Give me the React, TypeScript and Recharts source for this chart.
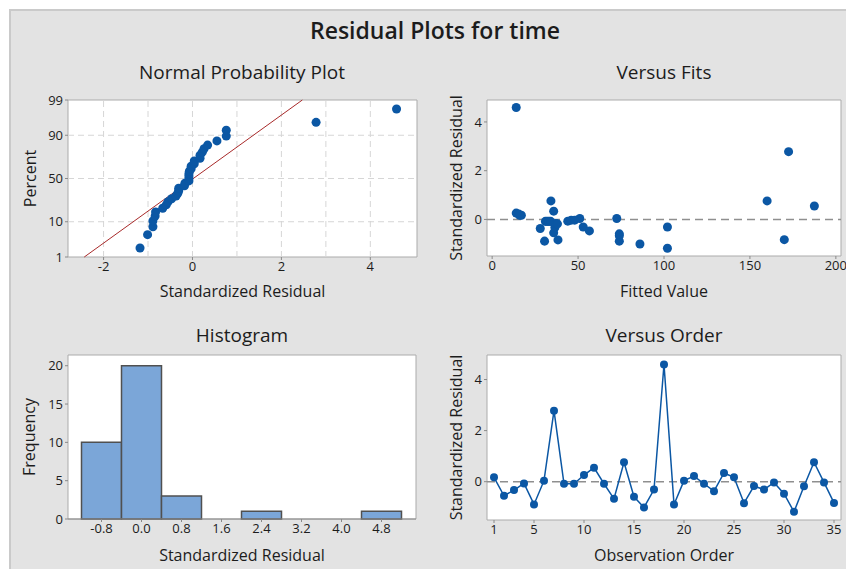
import React from "react";
import {
  ScatterChart,
  LineChart,
  BarChart,
  Scatter,
  Line,
  Bar,
  XAxis,
  YAxis,
  ZAxis,
  ReferenceLine,
  ReferenceArea,
} from "recharts";

// standardized residuals, in observation order 1..35
const residuals = [
  0.17, -0.55, -0.33, -0.07, -0.89, 0.04, 2.78, -0.08, -0.08, 0.26, 0.55, -0.08,
  -0.67, 0.76, -0.59, -1.01, -0.31, 4.59, -0.89, 0.04, 0.22, -0.08, -0.37, 0.34,
  0.17, -0.84, -0.17, -0.31, -0.03, -0.47, -1.18, -0.18, 0.76, -0.03, -0.83,
];
// fitted values for the same observations
const fittedValues = [
  17, 35.8, 36.5, 44, 74, 72.5, 172.5, 31, 32, 14, 187.5, 33, 74, 160, 74, 86,
  102, 14, 30.5, 51, 15.5, 34, 28, 35.8, 16, 38.3, 37, 53, 46, 56.6, 102, 38,
  34.2, 48, 170,
];
const binMids = [-0.8, 0.0, 0.8, 1.6, 2.4, 3.2, 4.0, 4.8];
const binCounts = [10, 20, 3, 0, 1, 0, 0, 1];

const percentTicks = [1, 10, 50, 90, 99];
const percentGrid = [10, 50, 90];
const probTicksX = [-2, 0, 2, 4];
const probGridX = [-2, -1, 0, 1, 2, 3, 4];
const fitsTicksX = [0, 50, 100, 150, 200];
const residTicksY = [0, 2, 4];
const orderTicksX = [1, 5, 10, 15, 20, 25, 30, 35];
const freqTicksY = [0, 5, 10, 15, 20];

const FONT = '"Open Sans", "Noto Sans", sans-serif';
const TEXT = "#1c1c1c";
const BLUE = "#0b57a4";
const FRAME = "#ababab";

// inverse normal cdf (Acklam)
function probit(p: number): number {
  const a = [-39.69683028665376, 220.9460984245205, -275.9285104469687, 138.357751867269, -30.66479806614716, 2.506628277459239];
  const b = [-54.47609879822406, 161.5858368580409, -155.6989798598866, 66.80131188771972, -13.28068155288572];
  const c = [-0.007784894002430293, -0.3223964580411365, -2.400758277161838, -2.549671010376228, 4.374664141464968, 2.938163982698783];
  const d = [0.007784695709041462, 0.3224671290700398, 2.445134137142996, 3.754408661907416];
  const lo = 0.02425;
  if (p < lo) {
    const q = Math.sqrt(-2 * Math.log(p));
    return (((((c[0] * q + c[1]) * q + c[2]) * q + c[3]) * q + c[4]) * q + c[5]) /
      ((((d[0] * q + d[1]) * q + d[2]) * q + d[3]) * q + 1);
  }
  if (p > 1 - lo) {
    const q = Math.sqrt(-2 * Math.log(1 - p));
    return -(((((c[0] * q + c[1]) * q + c[2]) * q + c[3]) * q + c[4]) * q + c[5]) /
      ((((d[0] * q + d[1]) * q + d[2]) * q + d[3]) * q + 1);
  }
  const q = p - 0.5;
  const r = q * q;
  return ((((((a[0] * r + a[1]) * r + a[2]) * r + a[3]) * r + a[4]) * r + a[5]) * q) /
    (((((b[0] * r + b[1]) * r + b[2]) * r + b[3]) * r + b[4]) * r + 1);
}

const n = residuals.length;
const sorted = [...residuals].sort((a, b) => a - b);
// median ranks (Benard)
const probPoints = sorted.map((x, i) => ({ x, z: probit((i + 1 - 0.3) / (n + 0.4)) }));
const mean = residuals.reduce((s, v) => s + v, 0) / n;
const sd = Math.sqrt(residuals.reduce((s, v) => s + (v - mean) ** 2, 0) / (n - 1));
const zTicks = percentTicks.map((p) => probit(p / 100));
const zMin = zTicks[0];
const zMax = zTicks[zTicks.length - 1];

const fitsPoints = residuals.map((r, i) => ({ fit: fittedValues[i], r }));
const orderPoints = residuals.map((r, i) => ({ obs: i + 1, r }));
const histData = binMids.map((mid, i) => ({ mid, count: binCounts[i] }));

const probX: [number, number] = [-2.8, 5.05];
const fitsX: [number, number] = [-3, 203];
const fitsY: [number, number] = [-1.5, 4.9];
const histX: [number, number] = [-1.47, 5.49];
const histY: [number, number] = [0, 21.4];
const orderX: [number, number] = [0.3, 35.7];
const orderY: [number, number] = [-1.5, 4.96];

const tick = { fill: TEXT, fontSize: 13, fontFamily: FONT };
const tickLine = { stroke: "#8a8a8a" };
const xLabel = (value: string) => ({
  value,
  position: "insideBottom" as const,
  offset: 0,
  fill: TEXT,
  fontSize: 16,
  fontFamily: FONT,
});
const yLabel = (value: string, offset: number) => ({
  value,
  position: "insideLeft" as const,
  angle: -90,
  offset,
  fill: TEXT,
  fontSize: 16,
  fontFamily: FONT,
  style: { textAnchor: "middle" as const },
});

function Title({ text, cx, top, size, weight }: { text: string; cx: number; top: number; size: number; weight?: number }) {
  return (
    <div
      style={{
        position: "absolute",
        left: cx - 200,
        width: 400,
        top,
        textAlign: "center",
        fontFamily: FONT,
        fontSize: size,
        lineHeight: `${size}px`,
        fontWeight: weight ?? 400,
        color: TEXT,
        whiteSpace: "nowrap",
      }}
    >
      {text}
    </div>
  );
}

function plotBg(x: [number, number], y: [number, number]) {
  return (
    <ReferenceArea
      x1={x[0]}
      x2={x[1]}
      y1={y[0]}
      y2={y[1]}
      ifOverflow="visible"
      fill="#ffffff"
      fillOpacity={1}
      stroke={FRAME}
      strokeWidth={1}
    />
  );
}

export default function App() {
  return (
    <div style={{ position: "absolute", left: 0, top: 0, width: 846, height: 569, background: "#ffffff", overflow: "hidden" }}>
      <div
        style={{
          position: "absolute",
          left: 9,
          top: 9,
          width: 837,
          height: 560,
          background: "#e3e3e3",
          borderLeft: "2px solid #cacaca",
          borderTop: "2px solid #cacaca",
          boxSizing: "border-box",
        }}
      />
      <Title text="Residual Plots for time" cx={435} top={19} size={23} weight={600} />
      <Title text="Normal Probability Plot" cx={242} top={63} size={19} />
      <Title text="Versus Fits" cx={664} top={63} size={19} />
      <Title text="Histogram" cx={242} top={326} size={19} />
      <Title text="Versus Order" cx={664} top={326} size={19} />

      {/* Normal probability plot */}
      <div style={{ position: "absolute", left: 0, top: 50 }}>
        <ScatterChart width={430} height={260} margin={{ top: 50, right: 13, bottom: 13, left: 28 }}>
          <XAxis type="number" dataKey="x" domain={probX} ticks={probTicksX} height={40}
            tick={tick} tickLine={tickLine} tickSize={3} axisLine={false} label={xLabel("Standardized Residual")} />
          <YAxis type="number" dataKey="z" domain={[zMin, zMax]} ticks={zTicks} width={40}
            tick={tick} tickLine={tickLine} tickSize={3} axisLine={false}
            tickFormatter={(v: number) => {
              const i = zTicks.findIndex((t) => Math.abs(t - v) < 1e-6);
              return i >= 0 ? String(percentTicks[i]) : "";
            }}
            label={yLabel("Percent", 2)} />
          <ZAxis range={[50, 50]} />
          {plotBg(probX, [zMin, zMax])}
          {probGridX.map((v) => (
            <ReferenceLine key={`gx${v}`} x={v} stroke="#d6d6d6" strokeDasharray="6 4" />
          ))}
          {percentGrid.map((p) => (
            <ReferenceLine key={`gy${p}`} y={probit(p / 100)} stroke="#d6d6d6" strokeDasharray="6 4" />
          ))}
          <ReferenceLine
            segment={[{ x: mean + sd * zMin, y: zMin }, { x: mean + sd * zMax, y: zMax }]}
            stroke="#a82a2a"
            strokeWidth={1}
          />
          <Scatter data={probPoints} fill={BLUE} isAnimationActive={false} />
        </ScatterChart>
      </div>

      {/* Versus fits */}
      <div style={{ position: "absolute", left: 430, top: 50 }}>
        <ScatterChart width={416} height={260} margin={{ top: 50, right: 5, bottom: 13, left: 17 }}>
          <XAxis type="number" dataKey="fit" domain={fitsX} ticks={fitsTicksX} height={41}
            tick={tick} tickLine={tickLine} tickSize={3} axisLine={false} label={xLabel("Fitted Value")} />
          <YAxis type="number" dataKey="r" domain={fitsY} ticks={residTicksY} width={40}
            tick={tick} tickLine={tickLine} tickSize={3} axisLine={false} label={yLabel("Standardized Residual", 9)} />
          <ZAxis range={[56, 56]} />
          {plotBg(fitsX, fitsY)}
          <ReferenceLine y={0} stroke="#8f8f8f" strokeWidth={1.5} strokeDasharray="8 5" />
          <Scatter data={fitsPoints} fill={BLUE} isAnimationActive={false} />
        </ScatterChart>
      </div>

      {/* Histogram */}
      <div style={{ position: "absolute", left: 0, top: 310 }}>
        <BarChart width={430} height={259} data={histData} barCategoryGap={0} barGap={0}
          margin={{ top: 45, right: 14, bottom: 8, left: 28 }}>
          <XAxis type="number" dataKey="mid" domain={histX} ticks={binMids} height={42}
            tick={tick} tickLine={tickLine} tickSize={3} axisLine={{ stroke: "#8a8a8a" }}
            tickFormatter={(v: number) => v.toFixed(1)} label={xLabel("Standardized Residual")} />
          <YAxis type="number" domain={histY} ticks={freqTicksY} width={40}
            tick={tick} tickLine={tickLine} tickSize={3} axisLine={false} label={yLabel("Frequency", 1)} />
          {plotBg(histX, histY)}
          <Bar dataKey="count" fill="#7ba6d8" stroke="#505050" strokeWidth={1.5} isAnimationActive={false} />
        </BarChart>
      </div>

      {/* Versus order */}
      <div style={{ position: "absolute", left: 430, top: 310 }}>
        <LineChart width={416} height={259} data={orderPoints} margin={{ top: 45, right: 5, bottom: 8, left: 17 }}>
          <XAxis type="number" dataKey="obs" domain={orderX} ticks={orderTicksX} height={41}
            tick={tick} tickLine={tickLine} tickSize={3} axisLine={false} label={xLabel("Observation Order")} />
          <YAxis type="number" domain={orderY} ticks={residTicksY} width={40}
            tick={tick} tickLine={tickLine} tickSize={3} axisLine={false} label={yLabel("Standardized Residual", 9)} />
          {plotBg(orderX, orderY)}
          <ReferenceLine y={0} stroke="#8f8f8f" strokeWidth={1.5} strokeDasharray="8 5" />
          <Line dataKey="r" stroke={BLUE} strokeWidth={1.5}
            dot={{ r: 4, fill: BLUE, stroke: BLUE, strokeWidth: 0 }} isAnimationActive={false} />
        </LineChart>
      </div>
    </div>
  );
}
